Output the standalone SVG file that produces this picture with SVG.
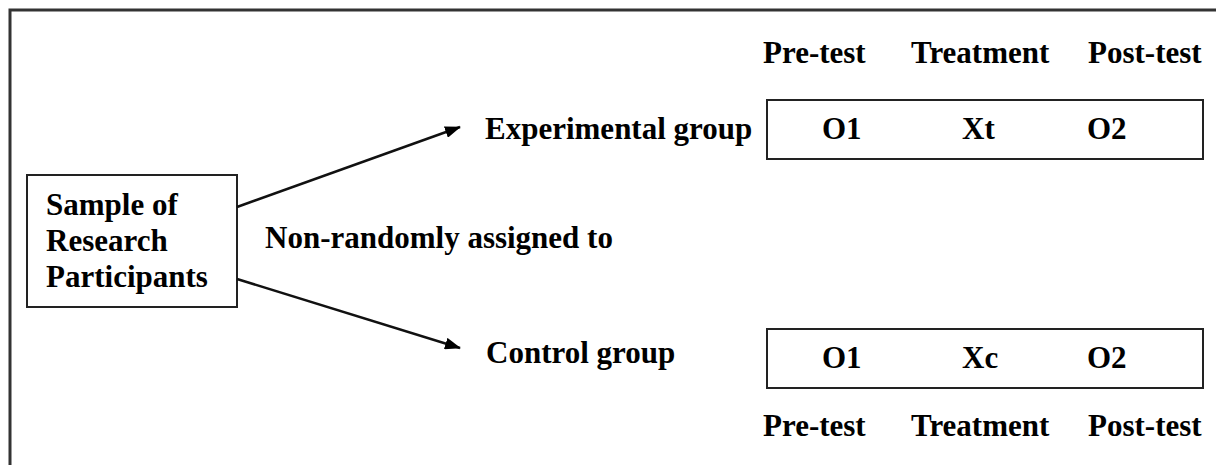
<svg xmlns="http://www.w3.org/2000/svg" width="1216" height="465" viewBox="0 0 1216 465">
<style>
text{font-family:"Liberation Serif","Times New Roman",serif;font-weight:bold;font-size:31px;fill:#000}
.box{fill:#fff;stroke:#222;stroke-width:2}
.conn{stroke:#111;stroke-width:2.5;fill:none}
</style>
<defs>
<marker id="ah" markerWidth="16" markerHeight="12" refX="15" refY="6" orient="auto" markerUnits="userSpaceOnUse" viewBox="0 0 16 12">
<path d="M0,0 L16,6 L0,12 Z" fill="#000"/>
</marker>
</defs>
<rect width="1216" height="465" fill="#fff"/>
<polyline points="10,466 10,10 1217,10" fill="none" stroke="#333" stroke-width="3"/>
<g id="sample">
<rect class="box" x="27" y="175" width="210" height="132"/>
<text x="46" y="215">Sample of</text>
<text x="46" y="251">Research</text>
<text x="46" y="287">Participants</text>
</g>
<g id="connectors">
<line class="conn" x1="237" y1="207" x2="460" y2="127" marker-end="url(#ah)"/>
<line class="conn" x1="237" y1="279" x2="460" y2="348" marker-end="url(#ah)"/>
</g>
<g id="assign-label">
<text x="265" y="248">Non-randomly assigned to</text>
</g>
<g id="headers-top">
<text x="763" y="63">Pre-test</text>
<text x="911" y="63">Treatment</text>
<text x="1088" y="63">Post-test</text>
</g>
<g id="experimental">
<text x="485" y="139">Experimental group</text>
<rect class="box" x="767" y="100" width="436" height="59"/>
<text x="822" y="139">O1</text>
<text x="962" y="139">Xt</text>
<text x="1087" y="139">O2</text>
</g>
<g id="control">
<text x="486" y="363">Control group</text>
<rect class="box" x="767" y="329" width="436" height="59"/>
<text x="822" y="368">O1</text>
<text x="962" y="368">Xc</text>
<text x="1087" y="368">O2</text>
</g>
<g id="headers-bottom">
<text x="763" y="436">Pre-test</text>
<text x="911" y="436">Treatment</text>
<text x="1088" y="436">Post-test</text>
</g>
</svg>
